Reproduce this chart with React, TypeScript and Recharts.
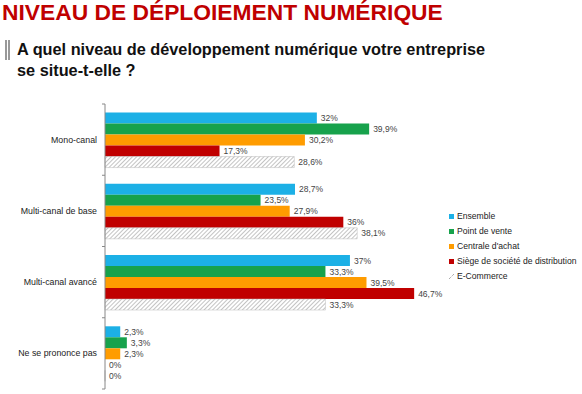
import React from "react";
import { BarChart, Bar, XAxis, YAxis, LabelList } from "recharts";

const categories = ["Mono-canal", "Multi-canal de base", "Multi-canal avancé", "Ne se prononce pas"];
const ensemble = [32, 28.7, 37, 2.3];
const pointDeVente = [39.9, 23.5, 33.3, 3.3];
const centraleAchat = [30.2, 27.9, 39.5, 2.3];
const siege = [17.3, 36, 46.7, 0];
const eCommerce = [28.6, 38.1, 33.3, 0];

const series = [
  { key: "ensemble", name: "Ensemble", color: "#1cb0e6" },
  { key: "pdv", name: "Point de vente", color: "#17a24c" },
  { key: "centrale", name: "Centrale d'achat", color: "#ff9c00" },
  { key: "siege", name: "Siège de société de distribution", color: "#c00000" },
  { key: "ecom", name: "E-Commerce", color: "url(#hatch)" },
];

const data = categories.map((c, i) => ({
  name: c,
  ensemble: ensemble[i],
  pdv: pointDeVente[i],
  centrale: centraleAchat[i],
  siege: siege[i],
  ecom: eCommerce[i],
}));

const FONT = "'Liberation Sans', Arial, sans-serif";
const fmt = (v: any) => `${String(v).replace(".", ",")}%`;

const CatTick = (props: any) => {
  const { x, y, payload, index } = props;
  const band = 71.25;
  return (
    <g>
      <line x1={x + 5} x2={x + 8} y1={y - band / 2} y2={y - band / 2} stroke="#888" />
      {index === categories.length - 1 && (
        <line x1={x + 5} x2={x + 8} y1={y + band / 2} y2={y + band / 2} stroke="#888" />
      )}
      <text x={x} y={y} dy={3} textAnchor="end" fontSize={8.8} fill="#222" fontFamily={FONT}>
        {payload.value}
      </text>
    </g>
  );
};

const ValueLabel = (props: any) => {
  const { x, y, width, height, value } = props;
  const w = value === 0 ? 0 : width;
  return (
    <text x={x + w + 4} y={y + height / 2} dy={3} fontSize={8.5} fill="#444" fontFamily={FONT}>
      {fmt(value)}
    </text>
  );
};

const LegendBox = () => (
  <div
    style={{
      position: "absolute",
      left: 449,
      top: 209,
      fontFamily: FONT,
      fontSize: 8.6,
      color: "#222",
      lineHeight: "15px",
    }}
  >
    {series.map((s) => (
      <div key={s.key} style={{ display: "flex", alignItems: "center", whiteSpace: "nowrap" }}>
        <svg width={5} height={5} style={{ marginRight: 3 }}>
          {s.key === "ecom" ? (
            <path d="M0,5 L5,0" stroke="#888" strokeWidth={1} strokeDasharray="1,1" />
          ) : (
            <rect width={5} height={5} fill={s.color} />
          )}
        </svg>
        <span>{s.name}</span>
      </div>
    ))}
  </div>
);

export default function App() {
  return (
    <div style={{ position: "relative", width: 582, height: 394, background: "#fff", fontFamily: FONT }}>
      <style>{`body{margin:0}`}</style>
      <div
        style={{
          position: "absolute",
          left: 2,
          top: -1,
          fontSize: 22.8,
          fontWeight: "bold",
          color: "#c00000",
          lineHeight: "26px",
          whiteSpace: "nowrap",
        }}
      >
        NIVEAU DE DÉPLOIEMENT NUMÉRIQUE
      </div>
      <div style={{ position: "absolute", left: 5, top: 40, width: 1.5, height: 20, background: "#999" }} />
      <div style={{ position: "absolute", left: 8, top: 40, width: 1.5, height: 20, background: "#999" }} />
      <div
        style={{
          position: "absolute",
          left: 17,
          top: 39,
          fontSize: 16.3,
          fontWeight: "bold",
          color: "#111",
          lineHeight: "21px",
          whiteSpace: "nowrap",
        }}
      >
        A quel niveau de développement numérique votre entreprise
        <br />
        se situe-t-elle ?
      </div>
      <div style={{ position: "absolute", left: 0, top: 0 }}>
        <BarChart
          width={582}
          height={394}
          data={data}
          layout="vertical"
          margin={{ top: 104, right: 146, bottom: 5, left: 0 }}
          barCategoryGap="12%"
          barGap={0}
        >
          <defs>
            <pattern id="hatch" width="3" height="3" patternUnits="userSpaceOnUse" patternTransform="rotate(45)">
              <rect width="3" height="3" fill="#fff" />
              <line x1="0" y1="0" x2="0" y2="3" stroke="#9a9a9a" strokeWidth="1.2" />
            </pattern>
          </defs>
          <XAxis type="number" domain={[0, 50]} hide />
          <YAxis
            type="category"
            dataKey="name"
            width={105}
            axisLine={{ stroke: "#888" }}
            tickLine={false}
            tickSize={0}
            tickMargin={8}
            tick={<CatTick />}
            interval={0}
          />
          {series.map((s) => (
            <Bar
              key={s.key}
              dataKey={s.key}
              name={s.name}
              fill={s.color}
              stroke={s.key === "ecom" ? "#bbb" : undefined}
              strokeWidth={s.key === "ecom" ? 0.5 : 0}
              minPointSize={0.01}
              isAnimationActive={false}
            >
              <LabelList dataKey={s.key} content={<ValueLabel />} />
            </Bar>
          ))}
        </BarChart>
      </div>
      <LegendBox />
    </div>
  );
}
